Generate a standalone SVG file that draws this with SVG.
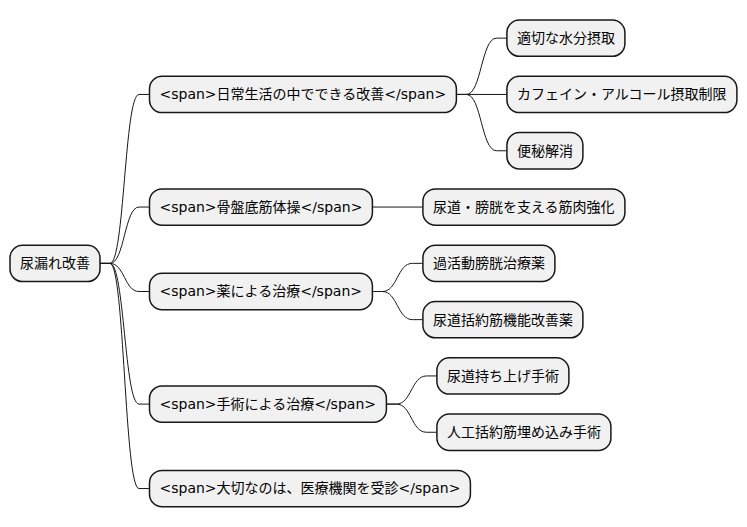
<svg xmlns="http://www.w3.org/2000/svg" width="747" height="527" viewBox="0 0 747 527">
<style>
.n rect{fill:#F1F1F1;stroke:#181818;stroke-width:1.5}
.n text{font-family:"DejaVu Sans","Noto Sans CJK JP",sans-serif;font-size:14px;fill:#000}
.c path{fill:none;stroke:#181818;stroke-width:1}
</style>
<rect width="747" height="527" fill="#FFFFFF"/>
<g class="c" id="connectors">
<path d="M100,263.4 L110,263.4 C124.5,263.4 124.5,94.45 139,94.45 L149.5,94.45"/>
<path d="M100,263.4 L110,263.4 C124.5,263.4 124.5,207.05 139,207.05 L149.5,207.05"/>
<path d="M100,263.4 L110,263.4 C124.5,263.4 124.5,291.5 139,291.5 L149.5,291.5"/>
<path d="M100,263.4 L110,263.4 C124.5,263.4 124.5,404.1 139,404.1 L149.5,404.1"/>
<path d="M100,263.4 L110,263.4 C124.5,263.4 124.5,488.55 139,488.55 L149.5,488.55"/>
<path d="M456.4,94.45 L466.4,94.45 C481.4,94.45 481.4,38.15 496.4,38.15 L506.9,38.15"/>
<path d="M456.4,94.45 L506.9,94.45"/>
<path d="M456.4,94.45 L466.4,94.45 C481.4,94.45 481.4,150.75 496.4,150.75 L506.9,150.75"/>
<path d="M372.4,207.05 L422.9,207.05"/>
<path d="M372.4,291.5 L382.4,291.5 C397.4,291.5 397.4,263.35 412.4,263.35 L422.9,263.35"/>
<path d="M372.4,291.5 L382.4,291.5 C397.4,291.5 397.4,319.65 412.4,319.65 L422.9,319.65"/>
<path d="M386.4,404.1 L396.4,404.1 C411.4,404.1 411.4,375.95 426.4,375.95 L436.9,375.95"/>
<path d="M386.4,404.1 L396.4,404.1 C411.4,404.1 411.4,432.25 426.4,432.25 L436.9,432.25"/>
</g>
<g class="n" id="root"><rect x="10" y="245.25" width="90" height="36.3" rx="12.5"/><text x="20" y="268.25">尿漏れ改善</text></g>
<g class="n" id="n1"><rect x="149.5" y="76.3" width="306.9" height="36.3" rx="12.5"/><text x="159.5" y="99.3">&lt;span&gt;日常生活の中でできる改善&lt;/span&gt;</text></g>
<g class="n" id="n2"><rect x="149.5" y="188.9" width="222.9" height="36.3" rx="12.5"/><text x="159.5" y="211.9">&lt;span&gt;骨盤底筋体操&lt;/span&gt;</text></g>
<g class="n" id="n3"><rect x="149.5" y="273.35" width="222.9" height="36.3" rx="12.5"/><text x="159.5" y="296.35">&lt;span&gt;薬による治療&lt;/span&gt;</text></g>
<g class="n" id="n4"><rect x="149.5" y="385.95" width="236.9" height="36.3" rx="12.5"/><text x="159.5" y="408.95">&lt;span&gt;手術による治療&lt;/span&gt;</text></g>
<g class="n" id="n5"><rect x="149.5" y="470.4" width="320.9" height="36.3" rx="12.5"/><text x="159.5" y="493.4">&lt;span&gt;大切なのは、医療機関を受診&lt;/span&gt;</text></g>
<g class="n" id="n1a"><rect x="506.9" y="20" width="118" height="36.3" rx="12.5"/><text x="516.9" y="43">適切な水分摂取</text></g>
<g class="n" id="n1b"><rect x="506.9" y="76.3" width="230" height="36.3" rx="12.5"/><text x="516.9" y="99.3">カフェイン・アルコール摂取制限</text></g>
<g class="n" id="n1c"><rect x="506.9" y="132.6" width="76" height="36.3" rx="12.5"/><text x="516.9" y="155.6">便秘解消</text></g>
<g class="n" id="n2a"><rect x="422.9" y="188.9" width="202" height="36.3" rx="12.5"/><text x="432.9" y="211.9">尿道・膀胱を支える筋肉強化</text></g>
<g class="n" id="n3a"><rect x="422.9" y="245.2" width="132" height="36.3" rx="12.5"/><text x="432.9" y="268.2">過活動膀胱治療薬</text></g>
<g class="n" id="n3b"><rect x="422.9" y="301.5" width="160" height="36.3" rx="12.5"/><text x="432.9" y="324.5">尿道括約筋機能改善薬</text></g>
<g class="n" id="n4a"><rect x="436.9" y="357.8" width="132" height="36.3" rx="12.5"/><text x="446.9" y="380.8">尿道持ち上げ手術</text></g>
<g class="n" id="n4b"><rect x="436.9" y="414.1" width="174" height="36.3" rx="12.5"/><text x="446.9" y="437.1">人工括約筋埋め込み手術</text></g>
</svg>
